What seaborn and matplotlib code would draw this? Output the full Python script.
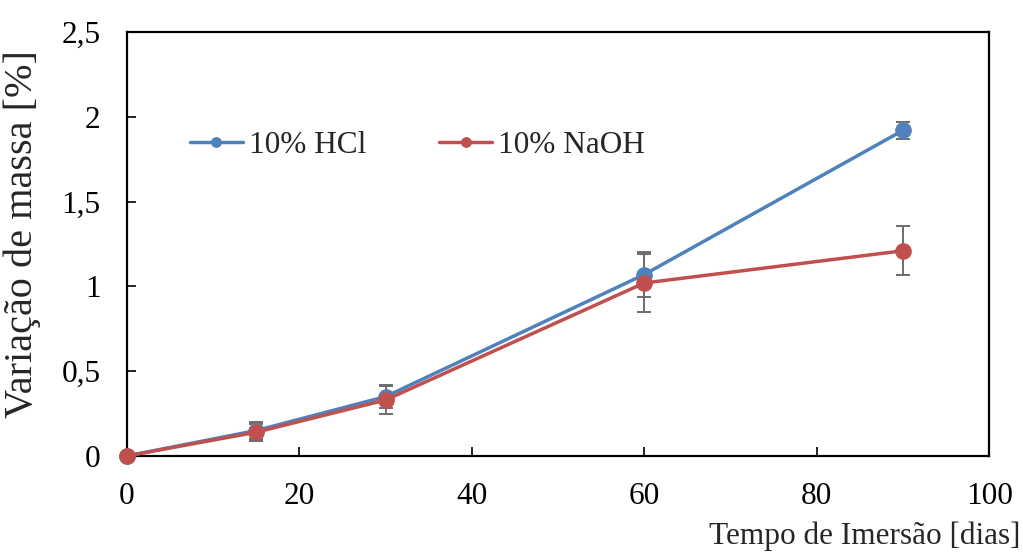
import pandas as pd
import matplotlib
matplotlib.use("Agg")
import matplotlib.pyplot as plt
import seaborn as sns
from matplotlib.ticker import FuncFormatter

# Dados
dias = [0, 15, 30, 60, 90]
hcl = [0.0, 0.15, 0.35, 1.07, 1.92]
hcl_err = [0.0, 0.05, 0.07, 0.13, 0.05]
naoh = [0.0, 0.14, 0.33, 1.02, 1.21]
naoh_err = [0.0, 0.05, 0.08, 0.17, 0.145]
series = ["10% HCl", "10% NaOH"]
cores = ["#4F81BD", "#C0504D"]

df = pd.DataFrame({
    "Dias": dias * 2,
    "Variacao": hcl + naoh,
    "Erro": hcl_err + naoh_err,
    "Solucao": [series[0]] * len(dias) + [series[1]] * len(dias),
})

sns.set_style("ticks")
plt.rcParams["font.family"] = ["Liberation Serif", "DejaVu Serif"]
plt.rcParams["font.size"] = 22.5

fig = plt.figure(figsize=(10.23, 5.52), dpi=100)
ax = fig.add_axes([0.124, 0.174, 0.843, 0.768])

# barras de erro (cinza, atrás dos marcadores)
for nome in series:
    sub = df[df["Solucao"] == nome]
    ax.errorbar(sub["Dias"], sub["Variacao"], yerr=sub["Erro"], fmt="none",
                ecolor="#6d6d6d", elinewidth=1.4, capsize=5, capthick=1.4, zorder=2)

sns.lineplot(data=df, x="Dias", y="Variacao", hue="Solucao", palette=cores,
             marker="o", markersize=12, markeredgewidth=0, linewidth=2.5,
             ax=ax, zorder=3)
for ln in ax.lines:
    ln.set_clip_on(False)

ax.set_xlim(0, 100)
ax.set_ylim(0, 2.5)
ax.set_xticks([0, 20, 40, 60, 80, 100])
ax.set_yticks([0, 0.5, 1, 1.5, 2, 2.5])
ax.yaxis.set_major_formatter(FuncFormatter(lambda v, p: f"{v:g}".replace(".", ",")))
ax.tick_params(direction="in", length=6.5, width=1.2, labelsize=22.5, colors="black", pad=19)
for s in ax.spines.values():
    s.set_linewidth(1.6)
    s.set_color("black")

ax.set_ylabel("Variação de massa [%]", fontsize=29)
ax.yaxis.set_label_coords(-0.099, 0.523)
ax.set_xlabel("Tempo de Imersão [dias]", fontsize=22.5, loc="right")
ax.xaxis.set_label_coords(1.036, -0.154)

leg = ax.legend(loc="center left", bbox_to_anchor=(0.073, 0.733), ncol=2, frameon=False,
                handlelength=1.7, columnspacing=2.35, handletextpad=0.18, fontsize=22.5,
                markerscale=0.65, borderpad=0, borderaxespad=0)

fig.savefig("out.png", dpi=100)
